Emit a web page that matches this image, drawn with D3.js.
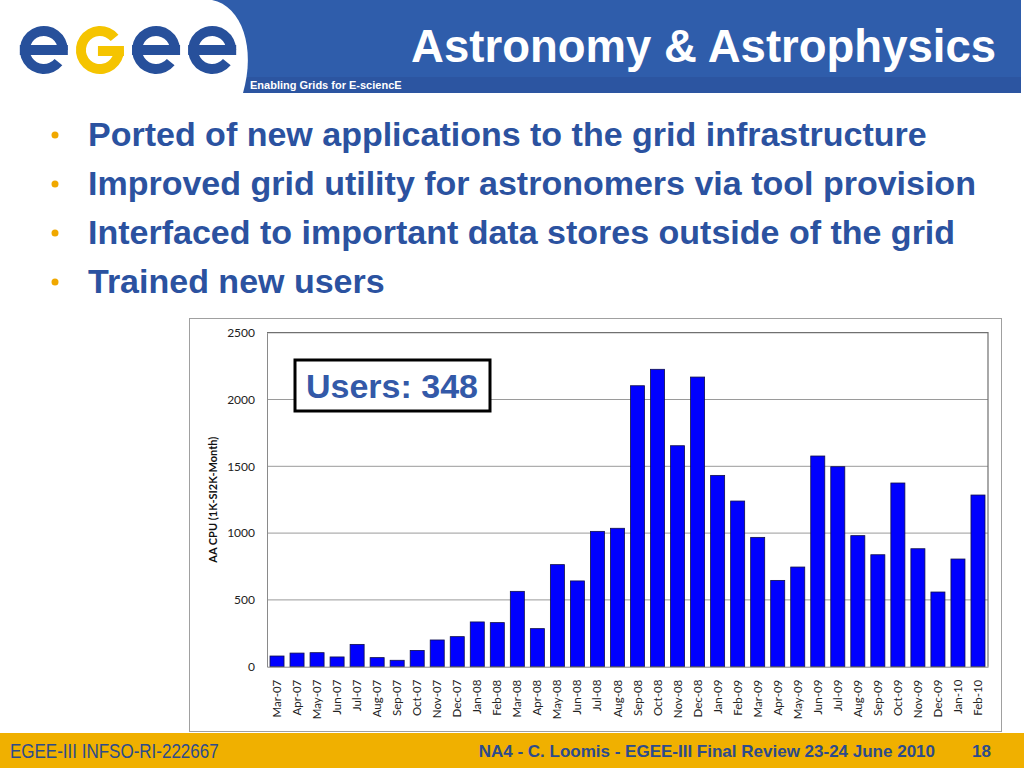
<!DOCTYPE html>
<html>
<head>
<meta charset="utf-8">
<script src="https://cdn.jsdelivr.net/npm/d3@7"></script>
<style>
  body { margin: 0; background: #fff; }
  svg { display: block; }
</style>
</head>
<body>
<div id="slide"></div>
<script>
// Data
const months = [
  "Mar-07", "Apr-07", "May-07", "Jun-07", "Jul-07", "Aug-07", "Sep-07", "Oct-07",
  "Nov-07", "Dec-07", "Jan-08", "Feb-08", "Mar-08", "Apr-08", "May-08", "Jun-08",
  "Jul-08", "Aug-08", "Sep-08", "Oct-08", "Nov-08", "Dec-08", "Jan-09", "Feb-09",
  "Mar-09", "Apr-09", "May-09", "Jun-09", "Jul-09", "Aug-09", "Sep-09", "Oct-09",
  "Nov-09", "Dec-09", "Jan-10", "Feb-10"
];
const cpuValues = [
  80, 102, 105, 73, 167, 68, 48, 122,
  200, 225, 335, 330, 564, 285, 764, 642,
  1013, 1036, 2103, 2226, 1654, 2168, 1432, 1240,
  968, 646, 746, 1577, 1497, 981, 838, 1375,
  883, 559, 806, 1285
];
const yTicks = [0, 500, 1000, 1500, 2000, 2500];
const bullets = [
  "Ported of new applications to the grid infrastructure",
  "Improved grid utility for astronomers via tool provision",
  "Interfaced to important data stores outside of the grid",
  "Trained new users"
];
const logoLetters = ["e", "G", "e", "e"];

const width = 1024;
const height = 768;
const blue = "#2f5dab";
const textBlue = "#2b52a0";
const sans = "Liberation Sans, Arial, sans-serif";

const svg = d3.select("#slide")
  .append("svg")
  .attr("width", width)
  .attr("height", height);

// Header band
svg.append("rect")
  .attr("x", 0).attr("y", 0)
  .attr("width", 1021).attr("height", 78)
  .attr("fill", blue);
svg.append("rect")
  .attr("x", 0).attr("y", 77)
  .attr("width", 1021).attr("height", 16)
  .attr("fill", "#2c55a1");

// White logo area with curved edge
svg.append("path")
  .attr("d", "M0,0 H212 C242,6 256,48 243,93 H0 Z")
  .attr("fill", "#fff");

// Logo letters drawn as arcs
const logo = svg.append("g");
const letterX = d3.scaleBand().domain(d3.range(logoLetters.length)).range([18, 238]).paddingInner(0.08);
logoLetters.forEach((ch, i) => {
  const cx = letterX(i) + letterX.bandwidth() / 2;
  const cy = 50;
  const r = 19;
  const g = logo.append("g").attr("transform", `translate(${cx},${cy})`);
  if (ch === "e") {
    const arc = d3.arc().innerRadius(r - 5).outerRadius(r + 5)
      .startAngle(Math.PI * 0.72).endAngle(Math.PI * 2.5);
    g.append("path").attr("d", arc()).attr("fill", "#27509b");
    g.append("rect")
      .attr("x", -r - 5).attr("y", -5)
      .attr("width", 2 * r + 10).attr("height", 10)
      .attr("fill", "#27509b");
  } else {
    const arc = d3.arc().innerRadius(r - 5).outerRadius(r + 5)
      .startAngle(Math.PI * 0.5).endAngle(Math.PI * 2.28);
    g.append("path").attr("d", arc()).attr("fill", "#f5c400");
    g.append("rect")
      .attr("x", -2).attr("y", -4)
      .attr("width", r + 7).attr("height", 10)
      .attr("fill", "#f5c400");
  }
});

svg.append("text")
  .attr("x", 250).attr("y", 89)
  .attr("font-family", sans)
  .attr("font-weight", "bold")
  .attr("font-size", 11)
  .attr("fill", "#fff")
  .text("Enabling Grids for E-sciencE");

svg.append("text")
  .attr("x", 996).attr("y", 62)
  .attr("text-anchor", "end")
  .attr("font-family", sans)
  .attr("font-weight", "bold")
  .attr("font-size", 45.5)
  .attr("fill", "#fff")
  .text("Astronomy & Astrophysics");

// Bullets
const bulletY = d3.scalePoint().domain(d3.range(bullets.length)).range([146, 293]);
bullets.forEach((b, i) => {
  svg.append("circle")
    .attr("cx", 55).attr("cy", bulletY(i) - 11)
    .attr("r", 3.5)
    .attr("fill", "#f0a800");
  svg.append("text")
    .attr("x", 88).attr("y", bulletY(i))
    .attr("font-family", sans)
    .attr("font-weight", "bold")
    .attr("font-size", 34)
    .attr("fill", textBlue)
    .text(b);
});

// Chart frame
svg.append("rect")
  .attr("x", 189.5).attr("y", 318.5)
  .attr("width", 812).attr("height", 413)
  .attr("fill", "#fff")
  .attr("stroke", "#a0a0a0")
  .attr("stroke-width", 1);

const plot = { left: 267, right: 988, top: 332.7, bottom: 666.7 };

const xScale = d3.scaleBand()
  .domain(months)
  .range([plot.left, plot.right])
  .paddingInner(0.3)
  .paddingOuter(0.15);

const yScale = d3.scaleLinear()
  .domain([0, 2500])
  .range([plot.bottom, plot.top]);

// Gridlines
svg.append("g")
  .selectAll("line")
  .data(yTicks.filter(d => d > 0 && d < 2500))
  .join("line")
  .attr("x1", plot.left).attr("x2", plot.right)
  .attr("y1", d => yScale(d)).attr("y2", d => yScale(d))
  .attr("stroke", "#9a9a9a")
  .attr("stroke-width", 1);

// Plot border top/right
svg.append("path")
  .attr("d", `M${plot.left},${yScale(2500)} H${plot.right} V${plot.bottom}`)
  .attr("fill", "none")
  .attr("stroke", "#707070")
  .attr("stroke-width", 1.2);

// Bars
svg.append("g")
  .selectAll("rect")
  .data(months.map((m, i) => ({ month: m, value: cpuValues[i] })))
  .join("rect")
  .attr("x", d => xScale(d.month))
  .attr("y", d => yScale(d.value))
  .attr("width", xScale.bandwidth())
  .attr("height", d => yScale(0) - yScale(d.value))
  .attr("fill", "#0000ff")
  .attr("stroke", "#10104a")
  .attr("stroke-width", 0.8);

// Axes
const yAxis = d3.axisLeft(yScale)
  .tickValues(yTicks)
  .tickFormat(d3.format("d"))
  .tickSize(0)
  .tickPadding(12);

const yAxisG = svg.append("g")
  .attr("transform", `translate(${plot.left},0)`)
  .call(yAxis);
yAxisG.select(".domain").attr("stroke", "#8a8a8a");
yAxisG.selectAll("text")
  .attr("font-family", "Lato, Open Sans, sans-serif")
  .attr("font-size", 12)
  .attr("fill", "#222");

const xAxis = d3.axisBottom(xScale).tickSize(0).tickPadding(0);
const xAxisG = svg.append("g")
  .attr("transform", `translate(0,${plot.bottom})`)
  .call(xAxis);
xAxisG.select(".domain").attr("stroke", "#8a8a8a");
xAxisG.selectAll("text")
  .attr("font-family", "Lato, Open Sans, sans-serif")
  .attr("font-size", 11.5)
  .attr("fill", "#222")
  .attr("text-anchor", "end")
  .attr("dy", "0.35em")
  .attr("transform", "translate(0,13) rotate(-90)");

svg.append("text")
  .attr("transform", `translate(217,${(plot.top + plot.bottom) / 2}) rotate(-90)`)
  .attr("text-anchor", "middle")
  .attr("font-family", "Lato, Open Sans, sans-serif")
  .attr("font-weight", "bold")
  .attr("font-size", 11)
  .attr("fill", "#111")
  .text("AA CPU (1K-SI2K-Month)");

// Users box
svg.append("rect")
  .attr("x", 295).attr("y", 360)
  .attr("width", 195).attr("height", 51)
  .attr("fill", "#fff")
  .attr("stroke", "#000")
  .attr("stroke-width", 3);
svg.append("text")
  .attr("x", 392).attr("y", 398)
  .attr("text-anchor", "middle")
  .attr("font-family", sans)
  .attr("font-weight", "bold")
  .attr("font-size", 34)
  .attr("fill", "#3359a8")
  .text("Users: 348");

// Footer
svg.append("rect")
  .attr("x", 0).attr("y", 733)
  .attr("width", width).attr("height", 35)
  .attr("fill", "#f0b000");

svg.append("text")
  .attr("transform", "translate(10,758) scale(0.85,1)")
  .attr("font-family", sans)
  .attr("font-size", 20)
  .attr("fill", "#2d4b8c")
  .text("EGEE-III INFSO-RI-222667");

svg.append("text")
  .attr("x", 935).attr("y", 757)
  .attr("text-anchor", "end")
  .attr("font-family", sans)
  .attr("font-weight", "bold")
  .attr("font-size", 17)
  .attr("fill", "#2d4b8c")
  .text("NA4 - C. Loomis - EGEE-III Final Review 23-24 June 2010");

svg.append("text")
  .attr("x", 991).attr("y", 757)
  .attr("text-anchor", "end")
  .attr("font-family", sans)
  .attr("font-weight", "bold")
  .attr("font-size", 17)
  .attr("fill", "#2d4b8c")
  .text("18");
</script>
</body>
</html>
